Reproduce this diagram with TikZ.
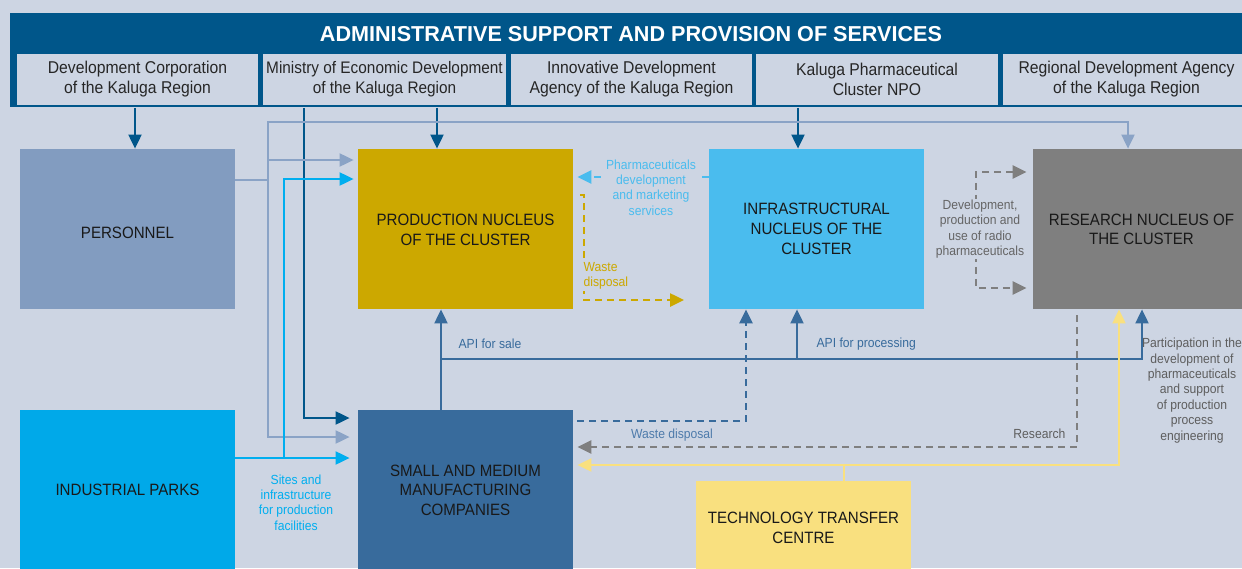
\documentclass[tikz,border=0pt]{standalone}
\usepackage{fontspec}
\setmainfont{Liberation Sans}[FakeStretch=0.92]
\newfontfamily\headfont{Liberation Sans}
\usetikzlibrary{arrows.meta,calc}

\definecolor{bg}{HTML}{CDD5E3}
\definecolor{dkblue}{HTML}{00568A}
\definecolor{perscol}{HTML}{829CC0}
\definecolor{perline}{HTML}{8AA3C6}
\definecolor{parkcol}{HTML}{00A9E9}
\definecolor{parkline}{HTML}{00AEEF}
\definecolor{prodcol}{HTML}{CCA800}
\definecolor{infracol}{HTML}{4ABCEE}
\definecolor{rescol}{HTML}{7F7F7F}
\definecolor{smecol}{HTML}{386B9C}
\definecolor{ttccol}{HTML}{F9E07F}
\definecolor{greytext}{HTML}{5E5E5E}
\definecolor{wastetext}{HTML}{4E7BAB}

% centred lines set a little lower than the box centre, keeping the box size
\newcommand\lowlines[2]{\raisebox{-#1}[\height][\depth]{\begin{tabular}{@{}c@{}}#2\end{tabular}}}

\begin{document}
\begin{tikzpicture}[x=0.5pt,y=-0.5pt,
  tip/.style={-{Triangle[length=7pt,width=6.5pt]}},
  tips/.style={{Triangle[length=7pt,width=6.5pt]}-{Triangle[length=7pt,width=6.5pt]}},
  solidln/.style={line width=1pt},
  dashln/.style={line width=1.25pt, dash pattern=on 3.5pt off 2.5pt},
  mainbox/.style={minimum width=107.5pt, minimum height=80pt, inner sep=0pt,
    align=center, text=black!90, font=\fontsize{8.2}{9.8}\selectfont},
  subbox/.style={fill=bg, minimum height=25.5pt, inner sep=0pt, align=center,
    text=black!85, font=\fontsize{8.55}{10}\selectfont},
  lbl/.style={inner sep=0.6pt, align=center, font=\fontsize{6.6}{7.7}\selectfont},
  lblbg/.style={lbl, fill=bg}
]
\useasboundingbox (0,0) rectangle (1242,568);
\clip (0,0) rectangle (1242,568);
\fill[bg] (0,0) rectangle (1242,568);

% administrative header with its five bodies
\node[fill=dkblue, minimum width=620pt, minimum height=47pt, inner sep=0pt,
  anchor=north west] (hdr) at (10,13) {};
\node[text=white, font=\headfont\bfseries\fontsize{10.8}{12}\selectfont] (title) at (631,34)
  {ADMINISTRATIVE SUPPORT AND PROVISION OF SERVICES};
\node[subbox, minimum width=120.5pt] (b1) at (137.5,79.5) {Development Corporation\\of the Kaluga Region};
\node[subbox, minimum width=121.5pt, font=\fontsize{8.35}{10}\selectfont] (b2) at (384.5,79.5) {Ministry of Economic Development\\of the Kaluga Region};
\node[subbox, minimum width=120.5pt] (b3) at (631.5,79.5) {Innovative Development\\Agency of the Kaluga Region};
\node[subbox, minimum width=121pt]   (b4) at (877,79.5) {Kaluga Pharmaceutical\\Cluster NPO};
\node[subbox, minimum width=123.5pt] (b5) at (1126.5,79.5) {Regional Development Agency\\of the Kaluga Region};

% cluster participants
\node[mainbox, fill=perscol] (pers) at (127.5,229) {\lowlines{2.8pt}{PERSONNEL}};
\node[mainbox, fill=parkcol] (parks) at (127.5,490) {INDUSTRIAL PARKS};
\node[mainbox, fill=prodcol] (prod) at (465.5,229) {\lowlines{1.3pt}{PRODUCTION NUCLEUS\\OF THE CLUSTER}};
\node[mainbox, fill=infracol] (infra) at (816.5,229) {\lowlines{0.8pt}{INFRASTRUCTURAL\\NUCLEUS OF THE\\CLUSTER}};
\node[mainbox, fill=rescol, minimum width=108.5pt] (res) at (1141.5,229) {\lowlines{1pt}{RESEARCH NUCLEUS OF\\THE CLUSTER}};
\node[mainbox, fill=smecol] (sme) at (465.5,490) {SMALL AND MEDIUM\\MANUFACTURING\\COMPANIES};
\node[mainbox, fill=ttccol, minimum height=47pt] (ttc) at (803.5,528) {TECHNOLOGY TRANSFER\\CENTRE};

\coordinate (wasteend) at (684,300);

% administrative links
\draw[dkblue, solidln, tip] (hdr.south -| 135,0) -- (135,0 |- pers.north);
\draw[dkblue, solidln, tip] (hdr.south -| 437,0) -- (437,0 |- prod.north);
\draw[dkblue, solidln, tip] (hdr.south -| 798,0) -- (798,0 |- infra.north);
\draw[dkblue, solidln, tip] (hdr.south -| 304,0) |- ([xshift=-4pt]sme.west |- 0,418);

% personnel supply
\draw[perline, solidln, tip] (pers.east |- 0,180) -| (268,122) -| (1128,0 |- res.north);
\draw[perline, solidln, tip] (268,160) -- ([xshift=-2pt]prod.west |- 0,160);
\draw[perline, solidln, tip] (268,180) |- ([xshift=-4pt]sme.west |- 0,437);

% sites and infrastructure
\draw[parkline, solidln, tip] (parks.east |- 0,458) -- ([xshift=-4pt]sme.west |- 0,458);
\draw[parkline, solidln, tip] (284,458) |- ([xshift=-2pt]prod.west |- 0,179);

% API flows
\draw[smecol, solidln, tip] (sme.north -| 441,0) -- (441,0 |- prod.south);
\draw[smecol, solidln, tip] (441,359) -| (797,0 |- infra.south);
\draw[smecol, solidln, tip] (797,359) -| (1142,0 |- res.south);

% waste disposal of small and medium companies
\draw[smecol, dashln, tip, shorten <=2pt] (sme.east |- 0,421) -| (746,0 |- infra.south);

% research services
\draw[rescol, dashln, tip, shorten <=3pt] (1077,0 |- res.south) |- ([xshift=2pt]sme.east |- 0,447);

% technology transfer
\draw[ttccol, solidln, tip] (ttc.north -| 844,0) |- ([xshift=2pt]sme.east |- 0,465);
\draw[ttccol, solidln, tip] (844,465) -| (1119,0 |- res.south);

% pharmaceuticals development and marketing
\draw[infracol, dashln, tip] (infra.west |- 0,177) -- ([xshift=2pt]prod.east |- 0,177);

% waste disposal of the production nucleus
\draw[prodcol, dashln, tip, shorten <=3.5pt] (prod.east |- 0,195) -| (584,300) -- (wasteend);

% radio pharmaceuticals
\draw[rescol, dashln, tips, shorten <=3pt, shorten >=3pt] (res.west |- 0,172) -| (976,230) |- (res.west |- 0,288);

% labels
\node[lblbg, text=infracol] (lpharma) at (651,187.5) {Pharmaceuticals\\development\\and marketing\\services};
\node[lblbg, text=prodcol, anchor=west, align=left] (lwaste1) at (582,276) {Waste\\disposal};
\node[lblbg, text=rescol!80!black] (lradio) at (980,229) {Development,\\production and\\use of radio\\pharmaceuticals};
\node[lbl, text=smecol, anchor=west] (lsale) at (457,344) {API for sale};
\node[lbl, text=smecol, anchor=west] (lproc) at (815,344) {API for processing};
\node[lbl, text=wastetext] (lwaste2) at (672,435) {Waste disposal};
\node[lbl, text=greytext, anchor=east] (lres) at (1067,434) {Research};
\node[lbl, text=greytext] (lpart) at (1192,390.5) {Participation in the\\development of\\pharmaceuticals\\and support\\of production\\process\\engineering};
\node[lbl, text=parkline] (lsites) at (296,502.5) {Sites and\\infrastructure\\for production\\facilities};
\end{tikzpicture}
\end{document}
